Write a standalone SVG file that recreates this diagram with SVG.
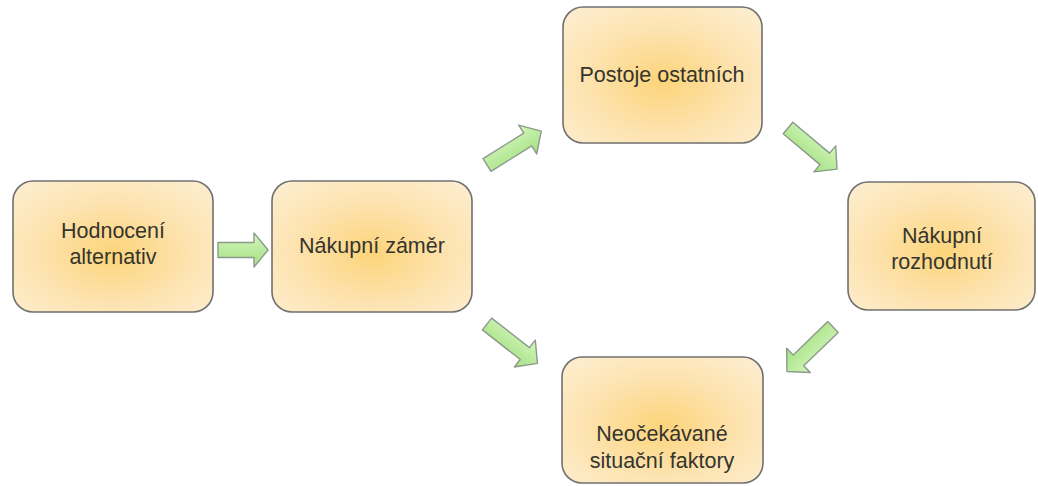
<svg xmlns="http://www.w3.org/2000/svg" width="1038" height="486" viewBox="0 0 1038 486">
<style>
.box{fill:url(#boxg);stroke:#707070;stroke-width:1.6}
.t{font-family:"Liberation Sans",Arial,sans-serif;font-size:21.5px;fill:#35352d;text-anchor:middle}
.arr{fill:url(#arrg);stroke:#8c9a8c;stroke-width:1.4;stroke-linejoin:round}
</style>
<defs>
<radialGradient id="boxg" cx="50%" cy="55%" r="65%">
<stop offset="0" stop-color="#fcd47a"/>
<stop offset="0.6" stop-color="#fde3b0"/>
<stop offset="1" stop-color="#fdeccb"/>
</radialGradient>
<linearGradient id="arrg" x1="0" y1="0" x2="0" y2="1">
<stop offset="0" stop-color="#d4f5bc"/>
<stop offset="1" stop-color="#a3e181"/>
</linearGradient>
<path id="ar" d="M0,-7.5 L48,-7.5 L48,-17 L64,0 L48,17 L48,7.5 L0,7.5 Z"/>
<path id="ar2" d="M0,-7.5 L36,-7.5 L36,-17 L50,0 L36,17 L36,7.5 L0,7.5 Z"/>
</defs>
<g id="connectors">
<use href="#ar2" class="arr" transform="translate(218,250)"/>
<use href="#ar" class="arr" transform="translate(487,165) rotate(-32)"/>
<use href="#ar" class="arr" transform="translate(788,128) rotate(40)"/>
<use href="#ar" class="arr" transform="translate(487,324) rotate(38)"/>
<use href="#ar" class="arr" transform="translate(833,327) rotate(136)"/>
</g>
<g id="n1"><rect class="box" x="13" y="181" width="200" height="131" rx="20"/><text class="t" x="113" y="238">Hodnocení</text><text class="t" x="113" y="264">alternativ</text></g>
<g id="n2"><rect class="box" x="272" y="181" width="200" height="131" rx="20"/><text class="t" x="372" y="253">Nákupní záměr</text></g>
<g id="n3"><rect class="box" x="563" y="7" width="199" height="136" rx="20"/><text class="t" x="662" y="82">Postoje ostatních</text></g>
<g id="n4"><rect class="box" x="848" y="182" width="187" height="128" rx="20"/><text class="t" x="942" y="243">Nákupní</text><text class="t" x="942" y="269">rozhodnutí</text></g>
<g id="n5"><rect class="box" x="562" y="357" width="201" height="126" rx="20"/><text class="t" x="662" y="441">Neočekávané</text><text class="t" x="662" y="468">situační faktory</text></g>
</svg>
